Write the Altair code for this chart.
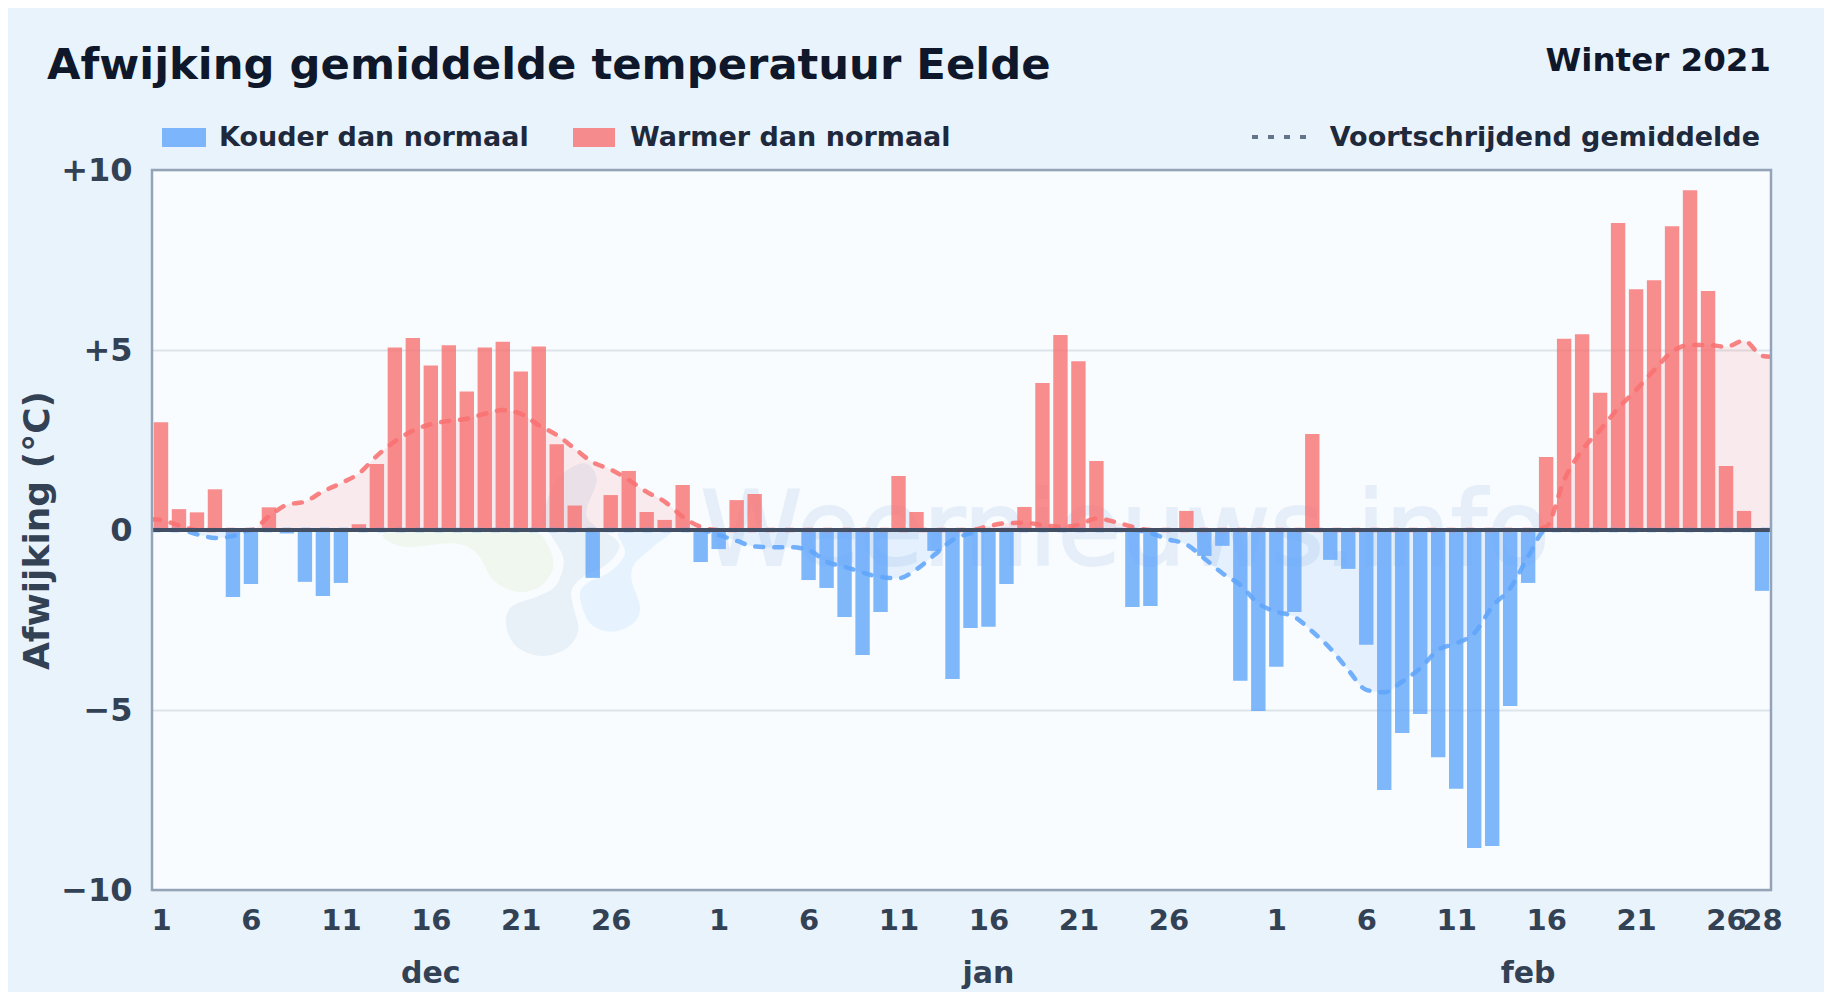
import altair as alt
import pandas as pd

# ---- data ----
deviation = [2.99,0.58,0.49,1.13,-1.86,-1.5,0.63,-0.1,-1.44,-1.83,-1.47,0.16,1.83,5.07,5.33,4.57,5.13,3.85,5.07,5.23,4.40,5.10,2.38,0.68,-1.33,
             0.97,1.64,0.5,0.28,1.25,-0.89,-0.53,0.83,1.0,0.0,0.0,-1.39,-1.61,-2.42,-3.47,-2.28,1.5,0.5,-0.58,-4.14,-2.72,-2.69,-1.5,0.64,4.08,
             5.42,4.69,1.92,0.0,-2.14,-2.11,-0.03,0.53,-0.72,-0.44,-4.19,-5.03,-3.80,-2.28,2.67,-0.83,-1.08,-3.19,-7.22,-5.64,-5.11,-6.31,-7.19,-8.83,-8.78,
             -4.89,-1.47,2.03,5.31,5.44,3.81,8.53,6.69,6.94,8.44,9.44,6.64,1.78,0.53,-1.69]
moving = [0.28,0.13,-0.12,-0.22,-0.17,0.0,0.38,0.7,0.79,1.07,1.3,1.57,2.06,2.46,2.76,2.94,3.03,3.09,3.23,3.33,3.23,2.91,2.64,2.26,1.88,
          1.68,1.39,1.06,0.79,0.37,0.09,-0.14,-0.3,-0.46,-0.48,-0.48,-0.56,-0.88,-1.02,-1.18,-1.31,-1.34,-1.09,-0.69,-0.28,-0.09,0.11,0.19,0.2,0.14,
          0.09,0.14,0.32,0.23,0.09,-0.09,-0.26,-0.4,-0.79,-1.2,-1.53,-2.04,-2.27,-2.41,-2.82,-3.29,-3.89,-4.44,-4.51,-4.21,-3.84,-3.33,-3.15,-2.87,-2.13,
          -1.62,-0.74,0.09,1.39,2.22,2.78,3.38,3.89,4.44,4.95,5.14,5.14,5.09,5.26,4.84]
moving_start = 0.30
moving_end = 4.81
tick_pos = [0,5,10,15,20,25,31,36,41,46,51,56,62,67,72,77,82,87,89]
tick_txt = ["1","6","11","16","21","26","1","6","11","16","21","26","1","6","11","16","21","26","28"]
months = ["dec","jan","feb"]
month_pos = [15,46,76]
y_ticks = [-10,-5,0,5,10]

FONT = "DejaVu Sans"
W, H = 1619, 720
XS = alt.Scale(domain=[-0.5, 89.5], nice=False, zero=False)
YS = alt.Scale(domain=[-10, 10], nice=False)

idx = list(range(len(deviation)))
bars = pd.DataFrame({"i": idx, "a": [max(i-0.4, -0.5) for i in idx], "b": [i+0.4 for i in idx], "v": deviation, "zero": 0})
bars["kind"] = ["warm" if v >= 0 else "cold" for v in deviation]
line = pd.DataFrame({"i": [-0.5]+idx+[89.5], "v": [moving_start]+moving+[moving_end]})
line["pos"] = line.v.clip(lower=0)
line["neg"] = line.v.clip(upper=0)
line["zero"] = 0

RED, BLUE = "#f87171", "#60a5fa"
lab = "{" + ",".join(f"'{p}':'{t}'" for p, t in zip(tick_pos, tick_txt)) + "}"
xaxis = alt.Axis(values=tick_pos, labelExpr=f"{lab}[datum.value]", grid=False, domain=False, ticks=False,
                 title=None, labelFont=FONT, labelFontWeight="bold", labelFontSize=29, labelColor="#334155",
                 labelPadding=16, labelOverlap=False, labelFlush=False, labelBound=False)
yaxis = alt.Axis(values=y_ticks,
                 labelExpr="datum.value>0?'+'+datum.value:(datum.value<0?'−'+abs(datum.value):'0')",
                 grid=True, gridColor="#dde4ea", gridWidth=2, domain=False, ticks=False,
                 title="Afwijking (°C)", titleFont=FONT, titleFontWeight="bold", titleFontSize=36, titleColor="#334155",
                 titlePadding=4, labelFont=FONT, labelFontWeight="bold", labelFontSize=32, labelColor="#334155",
                 labelPadding=20, labelOverlap=False)

base = alt.Chart(line)
# axes layer (grid underneath)
axes = base.mark_line(opacity=0).encode(x=alt.X("i:Q", scale=XS, axis=xaxis), y=alt.Y("v:Q", scale=YS, axis=yaxis))

wm = alt.Chart(pd.DataFrame({"t": ["Weernieuws.info"], "i": [53.6], "v": [-0.97]})).mark_text(
    font=FONT, fontSize=103, fontWeight="normal", color="#2563c0", opacity=0.085, align="center", baseline="alphabetic",
    stroke="#2563c0", strokeWidth=2, clip=True
).encode(x=alt.X("i:Q", scale=XS), y=alt.Y("v:Q", scale=YS), text="t:N")

def smooth(points):
    """closed Catmull-Rom path, points in reference zoom px of the logo region"""
    p = [(370 + a / 3 - 152, 440 + b / 3 - 170) for a, b in points]
    n = len(p)
    s = f"M{p[0][0]:.1f} {p[0][1]:.1f}"
    for k in range(n):
        p0, p1, p2, p3 = p[k-1], p[k], p[(k+1) % n], p[(k+2) % n]
        c1 = (p1[0] + (p2[0]-p0[0]) / 6, p1[1] + (p2[1]-p0[1]) / 6)
        c2 = (p2[0] - (p3[0]-p1[0]) / 6, p2[1] - (p3[1]-p1[1]) / 6)
        s += f"C{c1[0]:.1f} {c1[1]:.1f} {c2[0]:.1f} {c2[1]:.1f} {p2[0]:.1f} {p2[1]:.1f}"
    return s + "Z"

blob_green = [(45,280),(100,320),(250,310),(320,340),(370,420),(440,455),(510,440),(550,380),(530,310),(480,275),(250,270)]
blob_gray = [(650,230),(740,300),(740,340),(700,380),(640,410),(605,450),(610,500),(625,570),(590,625),(515,648),(440,620),
             (408,555),(425,500),(500,470),(555,440),(580,380),(575,340),(540,280),(520,230),(560,120),(640,70),(680,120)]
blob_light = [(630,470),(650,430),(720,395),(765,340),(750,270),(900,270),(850,320),(795,370),(785,420),(810,500),(790,550),(725,575),(660,550)]

def blob(points, color, op):
    return alt.Chart(pd.DataFrame({"c": [1]})).mark_point(
        shape=smooth(points), size=4, filled=True, color=color, opacity=op, strokeWidth=0, clip=True
    ).encode(x=alt.value(0), y=alt.value(0))

def area(col, color):
    return base.mark_area(color=color, opacity=0.13, interpolate="monotone").encode(
        x=alt.X("i:Q", scale=XS), y=alt.Y(f"{col}:Q", scale=YS), y2="zero:Q")

def curve(col, color):
    return base.mark_line(color=color, strokeWidth=4.5, strokeDash=[8, 11], opacity=0.88, strokeCap="round",
                          interpolate="monotone", clip=True).encode(
        x=alt.X("i:Q", scale=XS), y=alt.Y(f"{col}:Q", scale=YS))

bar_layer = alt.Chart(bars).mark_rect(opacity=0.8, clip=True).encode(
    x=alt.X("a:Q", scale=XS), x2="b:Q", y=alt.Y("zero:Q", scale=YS), y2="v:Q",
    color=alt.Color("kind:N", scale=alt.Scale(domain=["warm","cold"], range=[RED, BLUE]), legend=None)
)

zero = alt.Chart(pd.DataFrame({"v": [0]})).mark_rule(color="#434f65", strokeWidth=4).encode(y=alt.Y("v:Q", scale=YS))

frame = alt.Chart(pd.DataFrame({"c": [1]})).mark_rect(fillOpacity=0, stroke="#94a3b8", strokeWidth=2.5).encode(
    x=alt.value(0), x2=alt.value(W), y=alt.value(0), y2=alt.value(H))

month_lbl = alt.Chart(pd.DataFrame({"i": month_pos, "t": months})).mark_text(
    font=FONT, fontWeight="bold", fontSize=30, color="#334155", baseline="middle", align="center"
).encode(x=alt.X("i:Q", scale=XS), y=alt.value(804), text="t:N")

# offsets relative to plot area: plot left = 152, top = 170 on the page
def ltext(t, x, y, size=27, color="#1e293b", align="left"):
    return alt.Chart(pd.DataFrame({"t": [t]})).mark_text(
        font=FONT, fontWeight="bold", fontSize=size, color=color, align=align, baseline="middle"
    ).encode(x=alt.value(x), y=alt.value(y), text="t:N")

def swatch(x1, x2, color):
    return alt.Chart(pd.DataFrame({"c": [1]})).mark_rect(color=color, opacity=0.8).encode(
        x=alt.value(x1), x2=alt.value(x2), y=alt.value(-42), y2=alt.value(-23))

legend_dash = alt.Chart(pd.DataFrame({"c": [1]})).mark_rule(color="#64748b", strokeWidth=4, strokeDash=[6, 10]).encode(
    x=alt.value(1100), x2=alt.value(1156), y=alt.value(-33))

chart = alt.layer(
    axes, blob(blob_green, "#b5d98c", 0.14), blob(blob_gray, "#1e5a9e", 0.07), blob(blob_light, "#38a0f0", 0.09), wm,
    area("pos", RED), area("neg", BLUE), bar_layer,
    curve("pos", RED), curve("neg", BLUE), zero, frame, month_lbl,
    swatch(10, 54, BLUE), ltext("Kouder dan normaal", 67, -32),
    swatch(421, 463, RED), ltext("Warmer dan normaal", 478, -32),
    legend_dash, ltext("Voortschrijdend gemiddelde", 1608, -32, align="right"),
    ltext("Afwijking gemiddelde temperatuur Eelde", -105, -104, size=43.3, color="#0f172a"),
    ltext("Winter 2021", 1619, -109, size=32.5, color="#0f172a", align="right"),
).properties(
    width=W, height=H,
    background="#e9f3fc",
    padding={"left": 144, "top": 162, "right": 53, "bottom": 102},
    autosize=alt.AutoSizeParams(type="none"),
).configure_view(fill="#f8fcff", strokeWidth=0)

chart.save("out.html", embed_options={"renderer": "svg", "actions": False})
